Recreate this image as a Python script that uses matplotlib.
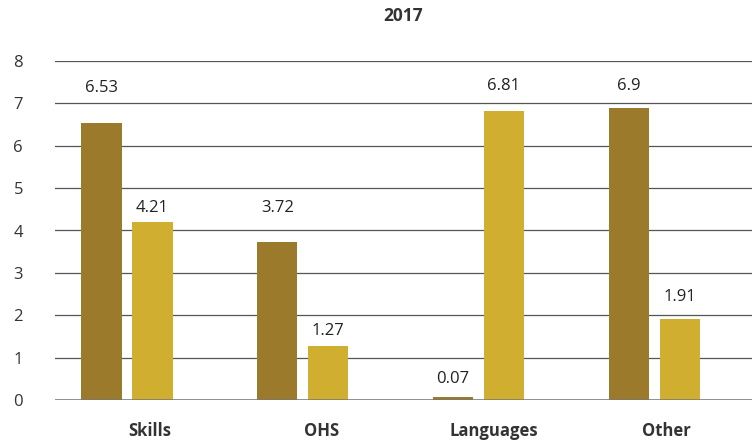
import matplotlib
matplotlib.use("Agg")
import matplotlib.pyplot as plt
import numpy as np

title = "2017"
categories = ["Skills", "OHS", "Languages", "Other"]
series_a = [6.53, 3.72, 0.07, 6.9]
series_b = [4.21, 1.27, 6.81, 1.91]
y_ticks = [0, 1, 2, 3, 4, 5, 6, 7, 8]

color_a = "#9C7A2B"
color_b = "#D0AE30"

# layout helpers (positions/styles)
label_shift_a = [35, 34, 18, 22]   # px above bar top to label centre
label_shift_b = [14, 15, 25, 22]
xtick_offsets = [0.128, 0.108, 0.085, 0.071]

plt.rcParams['font.family'] = ['Open Sans', 'DejaVu Sans']

fig = plt.figure(figsize=(7.52, 4.44), dpi=100)
ax = fig.add_axes([55/752, 1-400/444, 1-55/752, (400-61)/444])

x = np.arange(len(categories))
off = 0.145
w = 0.228
ax.bar(x - off, series_a, width=w, color=color_a, zorder=3)
ax.bar(x + off, series_b, width=w, color=color_b, zorder=3)

ax.set_ylim(0, 8)
ax.set_xlim(-0.4098, 3.557)
px_per_unit = 339 / 8.0
for i in range(len(categories)):
    ya = series_a[i] + label_shift_a[i] / px_per_unit
    yb = series_b[i] + label_shift_b[i] / px_per_unit
    ax.text(x[i] - off, ya, f"{series_a[i]:g}", ha="center", va="center",
            fontsize=12, color="#222222", zorder=4)
    ax.text(x[i] + off, yb, f"{series_b[i]:g}", ha="center", va="center",
            fontsize=12, color="#222222", zorder=4)

ax.set_yticks(y_ticks)
ax.set_yticklabels([str(t) for t in y_ticks], fontsize=12, color="#333333")
ax.yaxis.grid(True, color="#555555", linewidth=0.9, zorder=0)
ax.axhline(0, color="#777777", linewidth=1.8, zorder=5)

ax.set_xticks(x + np.array(xtick_offsets))
ax.set_xticklabels(categories, fontsize=12, fontweight="bold", color="#333333")
ax.tick_params(axis="both", length=0)
ax.tick_params(axis="y", pad=23)
ax.tick_params(axis="x", pad=16)
for s in ax.spines.values():
    s.set_visible(False)

ax.set_title(title, fontsize=12.5, fontweight="bold", color="#333333", pad=29)

fig.savefig("out.png", dpi=100)
